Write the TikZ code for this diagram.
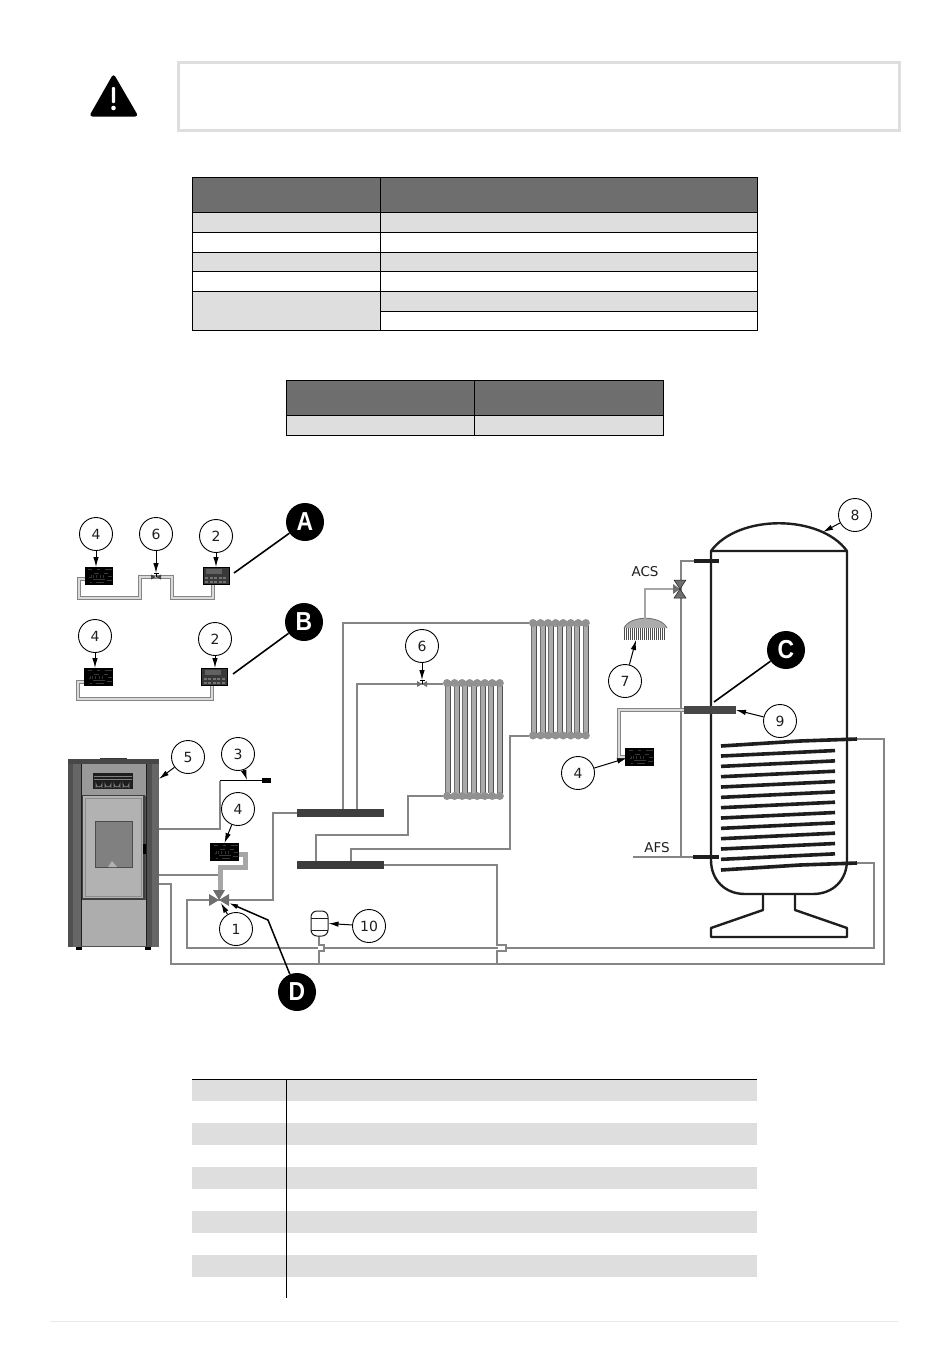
\documentclass[tikz,border=0pt]{standalone}
\usepackage{fontspec}
\setmainfont{DejaVu Sans}
\newfontfamily\lettfont{Liberation Sans}[BoldFeatures={FakeStretch=0.88}]
\usetikzlibrary{arrows.meta,calc}
\definecolor{hdr}{HTML}{6E6E6E}
\definecolor{rowg}{HTML}{DEDEDE}
\definecolor{pipec}{HTML}{858585}
\definecolor{pipel}{HTML}{A6A6A6}
\definecolor{panel}{HTML}{ABABAB}
\definecolor{darkp}{HTML}{505050}
\definecolor{ink}{HTML}{1E1E1E}
\tikzset{
  x=1pt,y=-1pt,
  callout/.style={circle,draw=black,fill=white,line width=0.9pt,minimum size=33pt,inner sep=0pt,font=\fontsize{14}{14}\selectfont,text=ink},
  lettercall/.style={circle,fill=black,minimum size=38pt,inner sep=0pt,text=white,font=\fontsize{26}{26}\selectfont\lettfont\bfseries},
  callarrow/.style={draw=black,line width=1pt,-{Latex[length=10pt,width=5.5pt]}},
  leaderline/.style={draw=black,line width=1.6pt},
  pipe/.style={draw=pipec,line width=2.3pt,line join=miter},
  pipelight/.style={draw=pipel,line width=2.3pt},
  pipedouble/.style={draw=pipec,line width=1.6pt,double=white!70!pipec,double distance=1.2pt},
  manifold/.style={rectangle,minimum width=87pt,minimum height=8pt,inner sep=0pt,outer sep=0pt},
  ctrlbox/.style={rectangle,fill=black,minimum width=28.5pt,minimum height=18pt,inner sep=0pt,outer sep=0pt},
  panelbox/.style={rectangle,fill=black!78,minimum width=26.5pt,minimum height=18pt,inner sep=0pt,outer sep=0pt},
  labeltext/.style={inner sep=0pt,font=\fontsize{13.5}{13.5}\selectfont,text=ink},
  tablerule/.style={draw=black,line width=1pt},
  tankline/.style={draw=ink,line width=2.4pt,line join=round},
  coilline/.style={draw=ink,line width=3.6pt},
}
% controller with speckled circuitry
\newcommand{\ctrlblack}[3]{%
  \node[ctrlbox] (#1) at (#2,#3) {};
  \foreach \dx/\dy/\len in {-11/-7/4,-2/-7/3,6/-7/7,-5/-3/5,5/-3/4,9/0/4,-10/1/2,-6/3/12,8/4/5,-9/6/2,-3/6/8}{
    \draw[gray!45!black,line width=0.6pt] ($(#1)+(\dx,\dy)$) -- ++(\len,0);
  }
  \foreach \dx in {-8,-6,-3,1,4}{\draw[gray!40!black,line width=0.5pt] ($(#1)+(\dx,-1)$) -- ++(0,3);}
}
\newcommand{\ctrlpanel}[3]{%
  \node[panelbox] (#1) at (#2,#3) {};
  \fill[black!62] ($(#1)+(-10,-7)$) rectangle ++(16,5);
  \draw[black,line width=0.5pt] ($(#1)+(-13.2,-8.6)$) rectangle ++(26.4,17.2);
  \foreach \dx in {-11,-6.5,-2,2.5,7}{
    \fill[black!55] ($(#1)+(\dx,1)$) rectangle ++(3.2,2);
    \fill[black!55] ($(#1)+(\dx,4.5)$) rectangle ++(3.2,2);
  }
}
% radiator: name, left, top, height
\newcommand{\radiator}[4]{%
  \node[rectangle,minimum width=61pt,minimum height=#4pt,inner sep=0pt,outer sep=0pt] (#1) at ({#2+30.5},{#3+#4/2}) {};
  \foreach \i in {0,...,6}{
    \fill[panel] ({#2+2.8+8.6*\i},{#3+4}) rectangle ++(4.6,{#4-8});
    \draw[hdr,line width=0.7pt] ({#2+2.6+8.6*\i},{#3+7}) -- ++(0,{#4-14});
    \draw[darkp,line width=0.7pt] ({#2+7.5+8.6*\i},{#3+7}) -- ++(0,{#4-14});
  }
  \foreach \i in {0,...,7}{
    \fill[panel!85!black] ({#2+4+7.55*\i},{#3+4}) circle (4);
    \fill[panel!85!black] ({#2+4+7.55*\i},{#3+#4-4}) circle (4);
  }
  \fill[panel!85!black] ({#2+4},{#3+1.5}) rectangle ({#2+57},{#3+6.5});
  \fill[panel!85!black] ({#2+4},{#3+#4-6.5}) rectangle ({#2+57},{#3+#4-1.5});
}
\begin{document}
\begin{tikzpicture}
\useasboundingbox (0,0) rectangle (950,1360);
\fill[white] (0,0) rectangle (950,1360);

% warning
\draw[rowg,line width=3pt,fill=white] (178,62) rectangle (899,130);
\fill[black,rounded corners=3.5pt] (113.5,73.5) -- (138.5,116.5) -- (89,116.5) -- cycle;
\fill[white,rounded corners=1pt] (111.8,87) rectangle (115.2,103);
\fill[white] (113.5,108) circle (2.3);

% table 1
\fill[hdr] (192,177) rectangle (757,212);
\fill[rowg] (192,212) rectangle (757,232);
\fill[rowg] (192,252) rectangle (757,271);
\fill[rowg] (192,291) rectangle (380,330);
\fill[rowg] (380,291) rectangle (757,311);
\foreach \yy in {212,232,252,271,291}{\draw[tablerule] (192,\yy) -- (757,\yy);}
\draw[tablerule] (380,311) -- (757,311);
\draw[tablerule] (192,177) rectangle (757,330);
\draw[tablerule] (380,177) -- (380,330);

% table 2
\fill[hdr] (286,380) rectangle (663,415);
\fill[rowg] (286,415) rectangle (663,435);
\draw[tablerule] (286,415) -- (663,415);
\draw[tablerule] (286,380) rectangle (663,435);
\draw[tablerule] (474,380) -- (474,435);

% table 3
\foreach \yy in {1079,1123,1167,1211,1255}{\fill[rowg] (192,\yy) rectangle (757,\yy+21.5);}
\draw[tablerule] (192,1079) -- (757,1079);
\draw[tablerule] (286,1079) -- (286,1298);
\draw[rowg!70!white,line width=1pt] (50,1321) -- (898,1321);

% ---------- detail A ----------
\ctrlblack{ctrlA}{99}{576}
\ctrlpanel{panA}{216}{576}
\coordinate (valveA) at (156,577);
\draw[pipedouble] (ctrlA.west |- 0,579) -- (79,579) -- (79,598) -- (140,598) -- (140,577) -- (valveA);
\draw[pipedouble] (valveA) -- (172,577) -- (172,598) -- (213,598) -- (panA.south -| 213,0);
\fill[hdr!60!black] (valveA) -- ++(-5,-2.5) -- ++(0,5) -- cycle;
\fill[hdr!60!black] (valveA) -- ++(5,-2.5) -- ++(0,5) -- cycle;
\draw[black,line width=1pt] (valveA) -- ++(0,-4) ++(-2.5,0) -- ++(5,0);
\node[callout] (c4A) at (96,534) {4};
\node[callout] (c6A) at (156,534) {6};
\node[callout] (c2A) at (216,536) {2};
\draw[callarrow] (c4A) -- (c4A |- ctrlA.north);
\coordinate (valveAtop) at (156,573);
\draw[callarrow] (c6A) -- (valveAtop);
\draw[callarrow] (c2A) -- (c2A |- panA.north);
\node[lettercall] (letA) at (305,522) {A};
\coordinate (letAend) at (234,573);
\draw[leaderline] (letA) -- (letAend);

% ---------- detail B ----------
\ctrlblack{ctrlB}{98.5}{677}
\ctrlpanel{panB}{214.5}{677}
\draw[pipedouble] (ctrlB.west |- 0,682) -- (78,682) -- (78,699) -- (212,699) -- (panB.south -| 212,0);
\node[callout] (c4B) at (95,636) {4};
\node[callout] (c2B) at (215,639) {2};
\draw[callarrow] (c4B) -- (c4B |- ctrlB.north);
\draw[callarrow] (c2B) -- (c2B |- panB.north);
\node[lettercall] (letB) at (304,622) {B};
\coordinate (letBend) at (233,674);
\draw[leaderline] (letB) -- (letBend);

% ---------- stove ----------
\node[rectangle,fill=darkp,minimum width=91pt,minimum height=188pt,inner sep=0pt,outer sep=0pt] (stove) at (113.5,853) {};
\fill[black!60] (73,763) rectangle (81,947);
\fill[black!60] (152,763) rectangle (159,947);
\fill[black] (76,947) rectangle (82,949.5);
\fill[black] (145,947) rectangle (151,949.5);
\fill[darkp!70!black] (100,757.8) rectangle (127,759);
\fill[black!72] (68,759) rectangle (159,763.5);
\fill[black!40] (81,763.5) rectangle (146,796);
\fill[black!32] (81,900) rectangle (146,946);
\draw[ink,line width=0.6pt] (81,763.5) -- (81,946);
\draw[ink,line width=0.6pt] (146,763.5) -- (146,946);
\fill[ink] (93,773) rectangle (133,789);
\foreach \yy in {776,779.5}{\draw[black!50,line width=0.8pt] (94,\yy) -- (132,\yy);}
\foreach \i in {0,1,2,3}{\draw[black!50,line width=0.8pt] (96+9*\i,788) -- ++(0,-4) arc (180:0:3) -- ++(0,4);}
\fill[black!30] (83,796) rectangle (143,899);
\draw[black!75,line width=1.1pt] (82.5,799) -- (82.5,795.5) -- (144,795.5) -- (144,899) -- (82.5,899) -- cycle;
\draw[black!45,line width=0.6pt] (85,798.5) rectangle (141.5,896.5);
\fill[black!50] (95,821) rectangle (132,867);
\draw[black!70,line width=0.8pt] (95,821) rectangle (132,867);
\fill[black!30] (108,867) -- (112,861) -- (117,867) -- cycle;
\fill[black] (143,844) rectangle (146,854);
\coordinate (stoveA) at (159,829);
\coordinate (stoveB) at (159,875);
\coordinate (stoveC) at (159,884);
\node[callout] (c5) at (188,757) {5};
\coordinate (stoveTip) at (159,779);
\draw[callarrow] (c5) -- (stoveTip);

% sensor 3
\node[rectangle,fill=black,minimum width=9pt,minimum height=5pt,inner sep=0pt,outer sep=0pt] (sens3) at (266.5,780.5) {};
\draw[black,line width=1.1pt] (sens3.west) -- (220,780.5);
\draw[pipe] (stoveA) -- (220,829) -- (220,780.5);
\node[callout] (c3) at (238,754) {3};
\coordinate (sens3tip) at (247,780);
\draw[callarrow] (c3) -- (sens3tip);

% valve 1 and its pipes
\coordinate (valve1) at (219,900);
\ctrlblack{ctrlD}{224.5}{852}
\draw[pipe] (stoveB) -- (219,875);
\draw[draw=pipel,line width=5pt] (ctrlD.east |- 0,854.5) -- (245,854.5) -- (245,867) -- (220,867) -- (220,894);
\draw[pipe] (valve1) -- (187,900) -- (187,948) -- (874,948) -- (874,863) -- (857,863);
\draw[pipe] (valve1) -- (273,900) -- (273,813) -- (297,813);
\draw[pipe] (stoveC) -- (171,884) -- (171,964) -- (884,964) -- (884,739) -- (857,739);
\fill[hdr] (valve1) -- ++(-10,-6) -- ++(0,12) -- cycle;
\fill[hdr] (valve1) -- ++(10,-6) -- ++(0,12) -- cycle;
\fill[hdr] (valve1) -- ++(-6,-10) -- ++(12,0) -- cycle;
\node[callout] (c4D) at (238,809) {4};
\draw[callarrow] (c4D) -- (ctrlD.north);
\node[callout] (c1) at (236,929) {1};
\coordinate (valve1tip) at (221,903);
\draw[callarrow] (c1) -- (valve1tip);
\node[lettercall] (letD) at (297,992) {D};
\coordinate (letDbend) at (268,920);
\coordinate (letDend) at (229,903);
\draw[leaderline,line width=1.5pt,-{Latex[length=9pt,width=5pt]}] (letD) -- (letDbend) -- (letDend);

% ---------- vessel 10 ----------
\fill[white] (318,946.5) rectangle (323,949.5);
\fill[white] (498,946.5) rectangle (505,949.5);
\draw[pipe] (319,936) -- (319,945) -- (324,945) -- (324,951) -- (319,951) -- (319,964);
\node[rectangle,rounded corners=6pt,draw=ink,fill=white,line width=1pt,minimum width=17pt,minimum height=25pt,inner sep=0pt] (vessel) at (319.5,923.5) {};
\draw[ink,line width=0.7pt] (311,918) -- (328,918);
\draw[ink,line width=0.7pt] (311,930) -- (328,930);
\node[callout] (c10) at (369,926) {10};
\draw[callarrow] (c10) -- (vessel.east);

% ---------- manifolds ----------
\node[manifold,fill=darkp!110] (man1) at (340.5,813) {};
\node[manifold,fill=black!77] (man2) at (340.5,865) {};

% radiators
\radiator{rad1}{443}{679}{121}
\radiator{rad2}{529}{619}{120.5}

% hydraulic pipes
\draw[pipe] (man1.north -| 343,0) -- (343,623) -- (rad2.north west |- 0,623);
\coordinate (valve6) at (422,684);
\draw[pipe] (man1.north -| 357,0) -- (357,684) -- (valve6) -- (rad1.north west |- 0,684);
\draw[pipe] (man2.north -| 316,0) -- (316,835) -- (408,835) -- (408,796) -- (rad1.south west |- 0,796);
\draw[pipe] (man2.north -| 351,0) -- (351,849) -- (510,849) -- (510,736) -- (rad2.south west |- 0,736);
\draw[pipe] (man2.east) -- (497,865) -- (497,945) -- (506,945) -- (506,951) -- (497,951) -- (497,964);
\fill[hdr] (valve6) -- ++(-5,-3) -- ++(0,6) -- cycle;
\fill[hdr] (valve6) -- ++(5,-3) -- ++(0,6) -- cycle;
\draw[black,line width=1pt] (valve6) -- ++(0,-4) ++(-2.5,0) -- ++(5,0);
\node[callout] (c6R) at (422,646) {6};
\coordinate (valve6top) at (422,680);
\draw[callarrow] (c6R) -- (valve6top);

% ---------- tank ----------
\draw[tankline] (711,551) -- (847,551) -- (847,860) .. controls (847,880) and (833,894) .. (813,894) -- (745,894) .. controls (725,894) and (711,880) .. (711,860) -- cycle;
\draw[tankline] (711,551) .. controls (738,514) and (820,514) .. (847,551);
\draw[tankline] (763,894) -- (763,910) -- (711,928) -- (711,937) -- (847,937) -- (847,928) -- (795,910) -- (795,894);
\foreach \i in {1,...,11}{
  \draw[coilline] (721,{745.7+10.33*\i}) -- (835,{740.2+10.33*\i});
}
\coordinate (coilTopEnd) at (857,739);
\coordinate (coilBotEnd) at (857,863);
\draw[coilline] (721,746) -- (800,741) -- (coilTopEnd);
\draw[coilline] (721,870) -- (800,865) -- (coilBotEnd);

% cold / hot water column
\coordinate (afsEnd) at (633,857);
\node[rectangle,fill=ink,minimum width=25pt,minimum height=4pt,inner sep=0pt,outer sep=0pt] (stubTop) at (706,561) {};
\node[rectangle,fill=ink,minimum width=26pt,minimum height=4pt,inner sep=0pt,outer sep=0pt] (stubBot) at (706,857) {};
\draw[pipe] (afsEnd) -- (stubBot.west);
\draw[pipe] (stubTop.west) -- (681,561) -- (681,857);
\coordinate (valveACS) at (680,589);
\fill[hdr] (valveACS) -- ++(-7,-5) -- ++(0,10) -- cycle;
\fill[hdr] (valveACS) -- ++(-6,-9) -- ++(12,0) -- cycle;
\fill[hdr] (valveACS) -- ++(-6,9) -- ++(12,0) -- cycle;
\draw[ink,line width=0.5pt] (valveACS) -- ++(-6,-9) -- ++(12,0) -- cycle;
\draw[ink,line width=0.5pt] (valveACS) -- ++(-6,9) -- ++(12,0) -- cycle;

% shower 7
\node[rectangle,minimum width=43pt,minimum height=21pt,inner sep=0pt,outer sep=0pt] (shower) at (645.5,629.5) {};
\fill[panel] (624,628) .. controls (630,615) and (661,615) .. (667,628) -- cycle;
\draw[hdr,line width=0.8pt] (624,628) .. controls (630,615) and (661,615) .. (667,628);
\foreach \i in {0,...,20}{\draw[hdr!70!black,line width=1.3pt] (624.6+2*\i,628) -- ++(0,12);}
\draw[pipelight] (valveACS) ++(-7,0) -- (645,589) -- (645,619);
\node[labeltext] (labACS) at (645,572) {ACS};
\node[labeltext] (labAFS) at (657,848) {AFS};
\node[callout] (c7) at (625,681) {7};
\coordinate (showerTip) at (636,640);
\draw[callarrow] (c7) -- (showerTip);
\node[callout] (c8) at (855,515) {8};
\coordinate (tankTip) at (823,532);
\draw[callarrow] (c8) -- (tankTip);

% sensor 9 and controller
\ctrlblack{ctrlC}{639.5}{757}
\node[rectangle,fill=black!72,minimum width=52pt,minimum height=8pt,inner sep=0pt,outer sep=0pt] (sens9) at (710,710) {};
\draw[pipedouble] (sens9.west) -- (619,710) -- (619,757) -- (ctrlC.west);
\node[callout] (c9) at (780,721) {9};
\draw[callarrow] (c9) -- (sens9.east);
\node[callout] (c4C) at (578,773) {4};
\coordinate (ctrlCtip) at (627,758);
\draw[callarrow] (c4C) -- (ctrlCtip);
\node[lettercall] (letC) at (786,650) {C};
\coordinate (letCend) at (714,702);
\draw[leaderline] (letC) -- (letCend);
\end{tikzpicture}
\end{document}
